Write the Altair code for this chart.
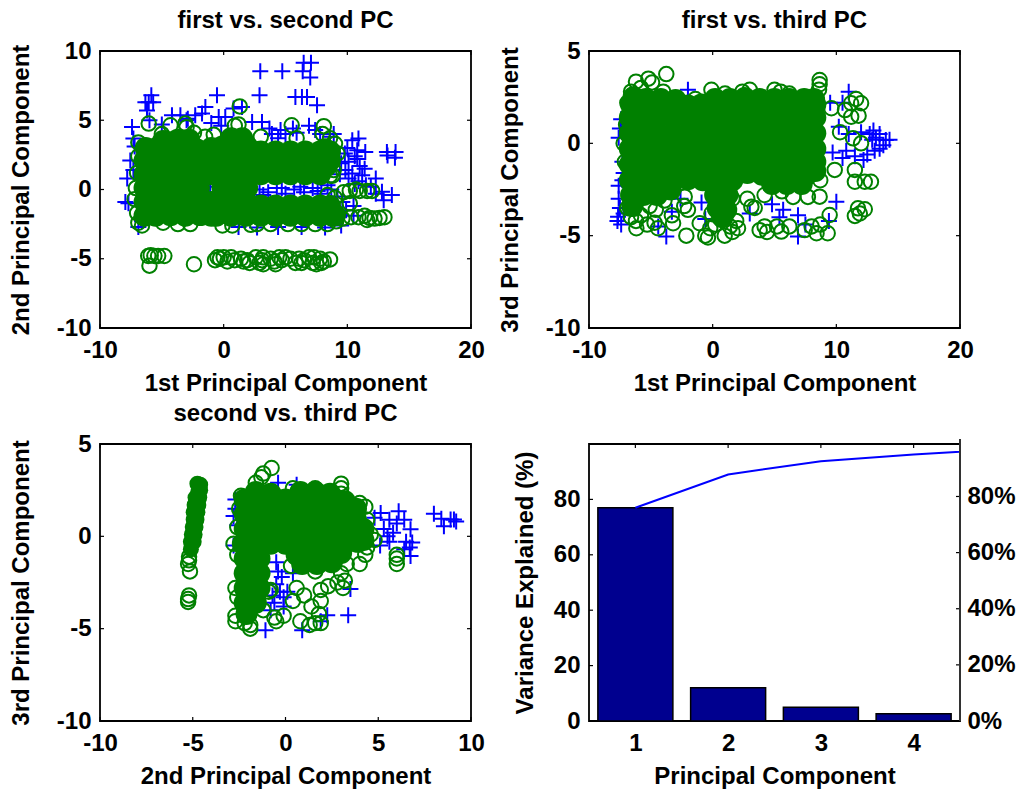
import altair as alt
import pandas as pd

FONT = "Liberation Sans"
W, H = 371, 277
BLUE, GREEN, NAVY = "#0000FF", "#008000", "#00008F"
PLUS = "M-1,0L1,0M0,-1L0,1"

# ---------- first vs. second PC ----------
tl_blue = [(2.96,8.53),(4.74,8.53),(6.47,9.16),(7.06,9.16),(6.39,8.53),(7.0,8.08),(-0.54,6.8),(2.9,6.8),
 (5.8,6.68),(6.33,6.68),(6.74,6.68),(7.55,6.08),(-5.85,6.8),(-6.33,6.3),(-6.06,6.3),(-5.7,6.3),(-6.2,5.7),
 (-1.75,5.48),(-1.48,5.96),(-3.5,5.36),(-4.18,5.36),(-2.3,5.36),(-2.9,5.1),(-0.4,5.24),(0.13,5.24),(1.48,5.96),
 (0.8,5.84),(2.3,4.88),(3.1,4.88),(-7.41,4.52),(-7.3,3.68),(-7.2,3.1),(-7.55,2.1),(-7.3,1.4),(-7.8,0.8),
 (-7.95,-0.9),(-7.7,-1.0),(-6.9,-2.7),(-6.6,-2.3),(10.4,3.56),(10.9,3.68),(10.8,2.84),(11.45,2.7),(9.8,2.6),
 (13.2,2.7),(13.9,2.7),(13.85,2.3),(13.25,2.45),(9.84,1.4),(10.4,1.15),(11.2,1.03),(12.3,0.8),(11.0,1.7),
 (10.6,2.4),(9.5,1.9),(10.1,0.8),(10.9,0.6),(12.8,-0.17),(13.6,-0.4),(12.94,-0.77),(12.3,-0.3),(11.5,0.3),
 (3.9,4.0),(5.0,4.0),(6.9,4.6),(5.9,4.1),(7.8,4.0),(8.6,3.8),(4.4,3.7),(2.9,0.0),(3.6,-0.2),(4.3,0.1),
 (5.0,-0.3),(5.7,0.0),(6.5,-0.2),(7.2,0.1),(7.9,-0.3),(8.7,0.0),(9.2,-0.5),(1.2,-2.7),(2.7,-2.75),(4.4,-2.7),
 (6.3,-2.7),(8.2,-2.75),(9.5,-2.6),(9.9,-1.5),(10.5,-1.9),(9.6,-0.9),(10.5,-1.2),(-0.1,0.1),(-1.1,0.2),
 (-6.0,5.0),(-5.0,4.7),(-3.0,5.0),(-1.0,4.8),(-0.2,4.6),(3.7,4.4),(4.6,4.3),(5.6,4.4),(7.4,4.3),(8.9,4.0),
 (10.1,2.0),(10.8,2.2),(9.4,1.1),(10.6,0.4),(11.9,0.2),(10.0,3.0),(11.4,1.5),(3.2,-0.4),(4.7,0.1),(6.2,0.2),(7.6,-0.1),(8.4,0.3)]
tl_core = [(-6.4,-1.9),(-6.4,-0.9),(-6.4,0.1),(-6.4,1.1),(-6.4,2.1),(-6.3,3.0),
 (-5.5,-1.9),(-4.3,-1.85),(-3.1,-1.9),(-1.9,-1.85),(-5.5,-0.9),(-4.3,-0.9),(-3.1,-0.85),(-1.9,-0.9),
 (-5.45,0.1),(-4.3,0.1),(-3.1,0.15),(-2.0,0.1),(-5.4,1.1),(-4.3,1.1),(-3.1,1.1),(-2.0,1.15),(-5.4,2.1),(-4.3,2.1),
 (-3.1,2.15),(-2.1,2.1),(-5.4,3.0),(-4.3,3.0),(-3.1,3.1),(-2.2,2.9),(-1.0,-0.9),(-1.0,-1.9),(-1.0,2.1),(-1.0,1.1),(-1.0,3.0),(-4.9,3.5),(-3.7,3.6),(-2.8,3.6),
 (-0.6,-1.9),(0.6,-1.9),(1.8,-1.9),(-0.5,-0.9),(0.6,-0.9),(1.8,-0.9),(-0.1,0.1),(0.9,0.1),(1.9,0.1),(-0.1,1.1),
 (0.9,1.1),(1.9,1.1),(-0.1,2.1),(0.9,2.1),(1.9,2.1),(-0.1,3.1),(0.9,3.1),(1.9,3.1),(0.6,3.7),(1.5,3.7),
 (3.0,1.1),(4.2,1.1),(5.4,1.1),(6.6,1.1),(7.8,1.1),(3.0,2.1),(4.2,2.1),(5.4,2.1),(6.6,2.1),(7.8,2.1),(8.3,1.7),(8.6,2.1),
 (3.0,2.75),(4.2,2.75),(5.4,2.75),(6.6,2.75),(7.8,2.75),(8.2,2.9),(8.6,2.75),
 (3.0,-1.9),(4.2,-1.9),(5.4,-1.9),(6.6,-1.9),(7.8,-1.9),(8.8,-1.9),(9.0,-1.85),(3.0,-1.15),(4.2,-1.15),(5.4,-1.15),(6.6,-1.15),(7.8,-1.15),(8.6,-1.2)]
tl_green = [(1.3,6.0),(-6.06,4.76),(-3.1,4.76),(-3.0,4.5),(-4.3,4.64),(5.5,4.64),(8.1,4.57),(0.9,4.6),(1.2,4.7),(-0.8,3.95),
 (-2.4,4.1),(-1.5,3.8),(-5.0,4.0),(3.0,3.8),(5.9,3.7),(8.0,4.0),(8.6,3.7),(9.0,3.3),(9.2,2.6),(8.9,1.4),(8.6,1.0),
 (-6.9,3.4),(-6.9,2.4),(-7.0,1.2),(-7.1,0.1),(-7.2,-0.7),(-7.0,-1.7),(-6.9,-2.4),(-6.6,-2.6),(-3.7,-2.5),(-2.7,-2.5),
 (-4.9,-2.4),(-0.1,-2.6),(0.7,-2.6),(2.2,-2.55),(2.7,-2.5),(3.8,-2.5),(5.2,-2.5),(6.3,-2.5),(7.4,-2.5),(8.4,-2.5),
 (9.1,-2.3),(9.6,-2.1),(10.3,-2.0),(10.9,-2.0),(11.4,-1.9),(11.8,-2.05),(12.2,-2.1),(12.6,-2.05),(13.0,-2.0),(11.6,-2.2),
 (9.7,-0.2),(10.2,-0.1),(10.7,0.0),(11.0,-0.1),(11.6,-0.1),(12.0,-0.1),(8.4,-0.4),(8.8,1.0),(9.0,-0.6),(10.2,-1.0),
 (-6.1,-4.8),(-5.9,-4.75),(-5.6,-4.8),(-5.3,-4.8),(-4.8,-4.8),(-6.0,-5.5),(-2.4,-5.4),
 (-0.7,-5.1),(-0.3,-5.0),(0.0,-4.9),(0.3,-5.2),(0.9,-5.1),(1.4,-5.0),(1.9,-5.1),(2.1,-5.3),(2.6,-4.9),(3.1,-5.1),
 (3.2,-4.9),(3.2,-5.4),(3.8,-5.0),(4.1,-5.2),(4.2,-5.4),(4.7,-5.1),(5.0,-4.9),(5.4,-5.0),(5.8,-5.3),(6.1,-5.0),
 (6.5,-5.1),(6.9,-4.9),(7.2,-5.3),(7.5,-5.4),(7.8,-5.0),(8.1,-5.2),(8.6,-5.05),(-0.5,-4.9),(0.6,-4.9),(1.6,-5.2),(2.9,-5.3),(4.5,-4.9),(6.3,-5.3),(7.3,-4.9),(7.9,-5.3)]

# ---------- first vs. third PC ----------
tr_blue = [(-7.65,-3.97),(-7.5,-3.5),(-7.7,-4.2),(-7.4,-4.4),(-7.2,-3.8),(-7.6,-2.3),(-7.3,-2.0),(-7.2,-1.6),(-7.3,-1.0),
 (-7.6,0.3),(-7.5,0.8),(-7.4,1.3),(-3.75,-5.05),(-4.4,-4.5),(-3.3,-3.7),(-2.0,2.9),(-2.3,-1.9),(-0.9,-3.2),(10.0,-3.16),
 (6.9,-5.05),(7.5,-4.4),(9.4,-4.2),(3.0,-3.8),(5.7,-3.6),(6.9,-3.9),(14.0,0.18),(14.3,0.2),(13.5,0.5),(13.0,0.7),(12.9,0.2),
 (12.5,-0.6),(13.5,-0.3),(13.8,-0.1),(12.2,-0.9),(11.5,-0.7),(10.5,-0.8),(10.2,0.9),(11.0,0.5),(10.5,2.2),(11.0,2.8),(9.5,2.2),
 (13.2,0.3),(12.7,0.5),(13.1,-0.4),(12.0,0.6),(10.8,-0.4),(9.7,-0.5),(-2.6,-3.0),(-0.6,-4.1),(4.8,-3.3),(5.4,-4.0),(-7.6,-3.0)]
tr_core = [
 (-6.7,-2.0),(-6.7,-1.15),(-6.7,-0.3),(-6.7,0.55),(-6.7,1.4),(-6.6,2.1),(-6.4,2.5),(-6.6,-2.8),(-5.6,-2.8),(-6.5,-3.4),
 (-5.6,-2.0),(-4.4,-2.0),(-3.2,-2.0),(-2.0,-1.95),(-0.8,-2.0),(0.4,-2.0),(1.6,-2.0),(2.8,-1.6),(4.0,-1.7),(5.2,-1.7),(6.4,-1.7),(7.6,-1.7),(8.3,-1.5),
 (-5.6,-1.15),(-4.4,-1.15),(-3.2,-1.15),(-2.0,-1.15),(-0.8,-1.15),(0.4,-1.15),(1.6,-1.15),(2.8,-1.15),(4.0,-1.15),(5.2,-1.15),(6.4,-1.15),(7.6,-1.15),(8.3,-1.0),
 (-5.6,-0.3),(-4.4,-0.3),(-3.2,-0.3),(-2.0,-0.3),(-0.8,-0.3),(0.4,-0.3),(1.6,-0.3),(2.8,-0.3),(4.0,-0.3),(5.2,-0.3),(6.4,-0.3),(7.6,-0.3),(8.3,-0.3),
 (-5.6,0.55),(-4.4,0.55),(-3.2,0.55),(-2.0,0.55),(-0.8,0.55),(0.4,0.55),(1.6,0.55),(2.8,0.55),(4.0,0.55),(5.2,0.55),(6.4,0.55),(7.6,0.55),(8.3,0.55),
 (-5.6,1.4),(-4.4,1.4),(-3.2,1.4),(-2.0,1.4),(-0.8,1.4),(0.4,1.4),(1.6,1.4),(2.8,1.4),(4.0,1.4),(5.2,1.4),(6.4,1.4),(7.6,1.4),(8.3,1.4),
 (-5.6,2.1),(-4.4,2.1),(-3.2,2.1),(-2.0,2.05),(-0.9,2.1),(0.4,2.1),(1.6,2.1),(2.8,2.2),(4.0,2.1),(5.2,2.1),(6.4,2.1),(7.6,2.1),(8.3,2.1),
 (-5.4,2.4),(-4.2,2.4),(-3.0,2.35),(0.2,2.4),(1.4,2.4),(2.6,2.45),(3.8,2.4),(5.0,2.4),(6.2,2.4),(7.4,2.4),(8.2,2.4),
 (0.2,-2.8),(1.2,-2.8),(0.4,-3.5),(1.1,-3.6),(0.8,-4.0),(-5.4,-2.7),(-4.5,-2.8),(-3.4,-2.5),(6.0,-2.2),(4.8,-2.2),(7.2,-2.2)]
tr_green = [(-3.75,3.75),(-6.2,3.34),(-5.2,3.5),(-4.9,3.3),(-5.8,3.0),(8.65,3.43),(8.65,3.2),(8.6,2.9),(11.2,2.17),(12.0,2.17),(11.6,2.4),
 (10.7,1.8),(11.2,1.44),(11.8,1.5),(11.35,0.27),(12.0,0.0),(10.3,0.6),(9.6,1.9),(9.87,-1.44),(11.5,-1.44),(11.5,-2.08),(12.3,-2.08),
 (12.8,-2.08),(11.75,-3.52),(12.3,-3.57),(11.5,-3.93),(11.9,-3.8),(9.3,-4.87),(9.46,-3.88),(8.65,-2.89),(7.7,-2.9),(6.5,-2.9),(5.6,-2.6),
 (8.7,-2.0),(-2.13,-5.0),(-0.38,-5.1),(-0.6,-5.0),(0.97,-5.0),(2.05,-4.6),(1.6,-4.8),(3.8,-4.7),(4.2,-4.5),(4.4,-4.8),(5.55,-4.78),(5.2,-4.5),
 (6.2,-4.5),(7.44,-4.7),(8.0,-4.5),(8.4,-4.87),(8.7,-4.4),(-6.17,-4.6),(-6.2,-4.2),(-6.9,-3.5),(-5.8,-3.9),(-4.42,-4.6),(-4.7,-4.3),(-3.2,-4.33),
 (-3.3,-3.9),(3.13,-3.43),(3.4,-3.5),(2.8,-3.0),(-2.26,-2.89),(-2.0,-3.6),(-2.3,-3.4),(-1.05,-4.33),(-0.1,-3.8),(1.6,-3.0),(4.2,-2.8),(-7.2,0.0),
 (-7.1,-1.0),(-7.0,1.0),(-6.9,2.2),(-6.6,2.8),(-4.0,2.8),(-1.4,2.4),(-0.1,2.9),(1.0,2.7),(2.4,2.8),(3.0,2.9),(5.0,2.9),(5.5,2.8),(6.2,2.7),
 (-5.1,-3.4),(-4.6,-3.6),(-5.3,-4.4),(-3.9,-3.1),(-6.6,-4.0),(1.9,-4.2),(1.4,-4.5),(0.2,-4.4),(-0.2,-4.6)]

# ---------- second vs. third PC ----------
bl_blue = [(6.1,1.36),(8.0,1.22),(8.54,0.55),(9.08,0.91),(8.9,0.91),(8.4,0.95),(9.2,0.8),(6.74,0.38),(6.83,-0.34),(6.74,-1.06),(5.13,1.27),
 (5.6,0.9),(5.3,0.4),(6.0,0.7),(5.8,0.2),(6.5,-0.3),(6.4,-0.7),(5.6,-0.3),(5.1,-0.5),(3.5,-2.85),(3.38,-4.28),(-1.08,-5.09),(0.9,-5.09),(2.25,-4.28),
 (1.9,-4.6),(-2.7,2.0),(-2.7,1.5),(-2.8,1.1),(-2.6,0.6),(-2.8,-0.5),(-0.5,-1.4),(-0.2,-2.2),(-0.3,-3.0),(-0.6,-3.6),(-0.1,-3.8),(0.4,-2.0),(-0.4,2.9),(0.6,2.8),(-0.8,-4.0),
 (-0.4,-1.9),(-0.1,-3.3),(0.1,-3.0),(-0.5,-2.6),(-0.7,-3.2),(4.8,1.0),(5.5,0.0),(6.4,0.9),(6.7,-0.6)]
bl_core = [(-2.2,2.0),(-2.2,1.2),(-2.2,0.4),(-2.3,-0.4),(-1.6,2.4),(-0.8,2.3),(0.8,2.4),(1.6,2.4),(2.4,2.3),
 (-1.6,2.0),(-0.8,2.0),(0.0,2.0),(0.8,2.0),(1.6,2.05),(2.4,2.0),(3.2,1.9),(3.8,1.5),
 (-1.6,1.2),(-0.8,1.2),(0.0,1.2),(0.8,1.2),(1.6,1.2),(2.4,1.2),(3.2,1.2),(3.8,0.9),
 (-1.6,0.4),(-0.8,0.4),(0.0,0.4),(0.8,0.4),(1.6,0.4),(2.4,0.4),(3.2,0.4),(3.9,0.3),(4.2,0.4),
 (-1.6,-0.4),(-0.8,-0.4),(0.0,-0.4),(0.8,-0.4),(1.6,-0.4),(2.4,-0.4),(3.2,-0.4),(3.9,-0.3),(4.2,-0.2),
 (0.6,-1.0),(1.4,-1.0),(2.2,-1.0),(3.0,-0.9),(0.9,-1.5),(1.7,-1.5),(2.5,-1.4),
 (-2.2,-1.2),(-1.4,-1.2),(-2.2,-2.0),(-1.4,-2.0),(-2.2,-2.8),(-1.4,-2.8),(-2.2,-3.6),(-1.6,-3.6),(-2.1,-4.2)]
bl_solid = [(-4.75,2.85),(-4.6,2.8),(-4.7,2.4),(-4.85,2.1),(-4.9,1.7),(-4.95,1.3),(-4.95,0.9),(-5.0,0.5),(-5.05,0.1),(-5.1,-0.3),(-5.1,-0.7),
 (-4.6,2.5),(-4.65,2.1),(-4.7,1.7),(-4.75,1.3),(-4.8,0.9),(-4.85,0.5),(-4.9,0.1),(-4.95,-0.3)]
bl_green = [(-0.75,3.7),(-1.2,3.4),(-1.3,3.2),(-1.6,2.9),(-5.2,-1.1),(-5.2,-1.3),(-5.25,-1.5),(-5.15,-1.9),(-5.2,-3.2),(-5.25,-3.4),(-5.25,-3.55),
 (3.0,2.85),(3.0,2.6),(3.0,2.3),(0.4,2.6),(1.6,2.6),(2.5,2.3),(4.0,1.8),(4.3,1.6),(4.4,0.9),(4.6,0.1),(4.8,-0.2),(4.4,-0.6),(4.3,-1.0),(4.0,-1.5),
 (6.0,-1.0),(6.0,-1.2),(6.0,-1.5),(3.3,-1.5),(3.0,-2.0),(3.2,-2.4),(2.8,-2.5),(2.3,-2.7),(1.9,-2.9),(3.1,-2.8),(-2.7,-2.8),(-2.6,-3.3),(-2.7,-4.3),(-2.7,-4.6),
 (-2.2,-4.7),(-1.9,-5.0),(-1.9,-4.8),(-1.2,-4.0),(-0.8,-2.9),(-0.9,-3.0),(-0.6,-4.4),(-0.5,-4.6),(-0.1,-4.3),(0.4,-3.5),(0.6,-2.8),(1.0,-3.2),
 (0.8,-4.6),(1.3,-4.8),(1.6,-4.7),(1.9,-4.7),(1.8,-4.2),(1.4,-3.8),(1.9,-3.5),(-2.6,-1.0),(-2.8,-0.4),(-2.6,0.5),(-2.5,1.5),(-2.4,2.2),(0.3,-1.6),(1.6,-1.9)]

# ---------- Pareto panel ----------
bar_pc = [1, 2, 3, 4]
bar_pct = [77, 12, 5, 2.6]
cum_pc = [1, 2, 3, 4, 5]
cum_pct = [77, 89, 93.8, 96.2, 98.2]
pct_ticks = [0, 20, 40, 60, 80]

AX = dict(domain=False, ticks=False, grid=False, labelFlush=False, labelOverlap=False, labelFont=FONT, labelFontSize=24,
          labelFontWeight="bold", labelColor="black", titleFont=FONT, titleFontSize=24, titleFontWeight="bold", titleColor="black")
PLAIN = "'' + datum.value"
HANG = "datum.value < 0 ? datum.value + '\u00a0\u00a0\u00a0' : '' + datum.value"


def table(rows):
    return pd.DataFrame(rows, columns=["x", "y"])


def frame(xticks, yticks, xs, ys, xaxis, yaxis):
    X = alt.X("v:Q", scale=xs, axis=xaxis)
    Y = alt.Y("v:Q", scale=ys, axis=yaxis)
    r = alt.Chart(pd.DataFrame({"v": xticks})).mark_rule(color="black", strokeWidth=1.2)
    q = alt.Chart(pd.DataFrame({"v": yticks})).mark_rule(color="black", strokeWidth=1.2)
    return [
        r.encode(x=X, y=alt.value(H), y2=alt.value(H - 4)),
        r.encode(x=X, y=alt.value(0), y2=alt.value(4)),
        q.encode(y=Y, x=alt.value(0), x2=alt.value(4)),
        q.encode(y=Y, x=alt.value(W), x2=alt.value(W - 4)),
    ]


def scatter(title, xtitle, ytitle, xdom, ydom, xticks, yticks, blue, green, core, solid=None):
    xs = alt.Scale(domain=xdom, nice=False, zero=False)
    ys = alt.Scale(domain=ydom, nice=False, zero=False)
    xaxis = alt.Axis(title=xtitle, values=xticks, labelPadding=10, titleX=W / 2, titleY=55,
                     titleBaseline="middle", labelExpr=HANG, **AX)
    yaxis = alt.Axis(title=ytitle, values=yticks, labelPadding=9, titleX=-79, titleY=H / 2,
                     titleBaseline="middle", labelExpr=PLAIN, **AX)
    X0 = alt.X("x:Q", scale=xs, axis=xaxis)
    Y0 = alt.Y("y:Q", scale=ys, axis=yaxis)
    layers = [
        alt.Chart(table(blue)).mark_point(shape=PLUS, filled=False, stroke=BLUE, strokeWidth=2, size=256, opacity=1).encode(x=X0, y=Y0),
        alt.Chart(table(core)).mark_point(shape="circle", filled=True, fill=GREEN, size=484, opacity=1).encode(x=X0, y=Y0),
    ]
    if solid:
        layers.append(alt.Chart(table(solid)).mark_point(shape="circle", filled=True, fill=GREEN, size=256, opacity=1).encode(x=X0, y=Y0))
    layers.append(alt.Chart(table(green)).mark_point(shape="circle", filled=False, stroke=GREEN, strokeWidth=2, size=210, opacity=1).encode(x=X0, y=Y0))
    layers += frame(xticks, yticks, xs, ys, xaxis, yaxis)
    return alt.layer(*layers).properties(
        width=W, height=H,
        title=alt.TitleParams(title, font=FONT, fontSize=24, fontWeight="bold", color="black", offset=6),
    )


tl = scatter("first vs. second PC", "1st Principal Component", "2nd Principal Component",
             [-10, 20], [-10, 10], [-10, 0, 10, 20], [-10, -5, 0, 5, 10], tl_blue, tl_green, tl_core)
tr = scatter("first vs. third PC", "1st Principal Component", "3rd Principal Component",
             [-10, 20], [-10, 5], [-10, 0, 10, 20], [-10, -5, 0, 5], tr_blue, tr_green, tr_core)
bl = scatter("second vs. third PC", "2nd Principal Component", "3rd Principal Component",
             [-10, 10], [-10, 5], [-10, -5, 0, 5, 10], [-10, -5, 0, 5], bl_blue, bl_green, bl_core, bl_solid)

# Pareto panel
xs = alt.Scale(domain=[0.5, 4.5], nice=False, zero=False, padding=0)
ys = alt.Scale(domain=[0, 100], nice=False, zero=False)
ys_right = alt.Scale(domain=[0, 98.7], nice=False, zero=False)
xaxis = alt.Axis(title="Principal Component", values=bar_pc, labelPadding=10, titleX=W / 2, titleY=55,
                 titleBaseline="middle", labelExpr=PLAIN, **AX)
yaxis = alt.Axis(title="Variance Explained (%)", values=pct_ticks, labelPadding=9, titleX=-64,
                 titleY=H / 2, titleBaseline="middle", labelExpr=PLAIN, **AX)
raxis = alt.Axis(orient="right", values=pct_ticks, labelExpr="datum.value + '%'", title=None, labelPadding=7, **AX)
bars = alt.Chart(pd.DataFrame({"pc": bar_pc, "pct": bar_pct})).mark_bar(
    size=75, fill=NAVY, stroke="black", strokeWidth=1.5, opacity=1).encode(
    x=alt.X("pc:Q", scale=xs, axis=xaxis), y=alt.Y("pct:Q", scale=ys, axis=yaxis))
cum = alt.Chart(pd.DataFrame({"pc": cum_pc, "pct": cum_pct})).mark_line(color=BLUE, strokeWidth=2, clip=True).encode(
    x=alt.X("pc:Q", scale=xs, axis=xaxis), y=alt.Y("pct:Q", scale=ys, axis=yaxis))
q = alt.Chart(pd.DataFrame({"v": pct_ticks}))
lt = q.mark_rule(color="black", strokeWidth=1.2).encode(y=alt.Y("v:Q", scale=ys, axis=yaxis), x=alt.value(0), x2=alt.value(4))
top = alt.Chart(pd.DataFrame({"v": bar_pc})).mark_rule(color="black", strokeWidth=1.2).encode(
    x=alt.X("v:Q", scale=xs, axis=xaxis), y=alt.value(0), y2=alt.value(4))
left = alt.layer(bars, cum, lt, top)
r_ticks = q.mark_rule(color="black", strokeWidth=1.2).encode(
    y=alt.Y("v:Q", scale=ys_right, axis=raxis), x=alt.value(W), x2=alt.value(W - 4))
spine = q.mark_rule(color="#333333", strokeWidth=1.5).encode(x=alt.value(W), y=alt.value(-5), y2=alt.value(H))
right = alt.layer(r_ticks, spine)
br = alt.layer(left, right).resolve_scale(y="independent").properties(width=W, height=H)

chart = alt.concat(tl, tr, bl, br, columns=2, spacing={"row": 116, "column": 118}).properties(
    bounds="flush", padding={"left": 0, "top": 0, "right": 0, "bottom": 0}, background="white",
).configure_view(stroke="black", strokeWidth=1.8, fill="white")
chart.save("out.html", embed_options={"renderer": "svg", "actions": False})
